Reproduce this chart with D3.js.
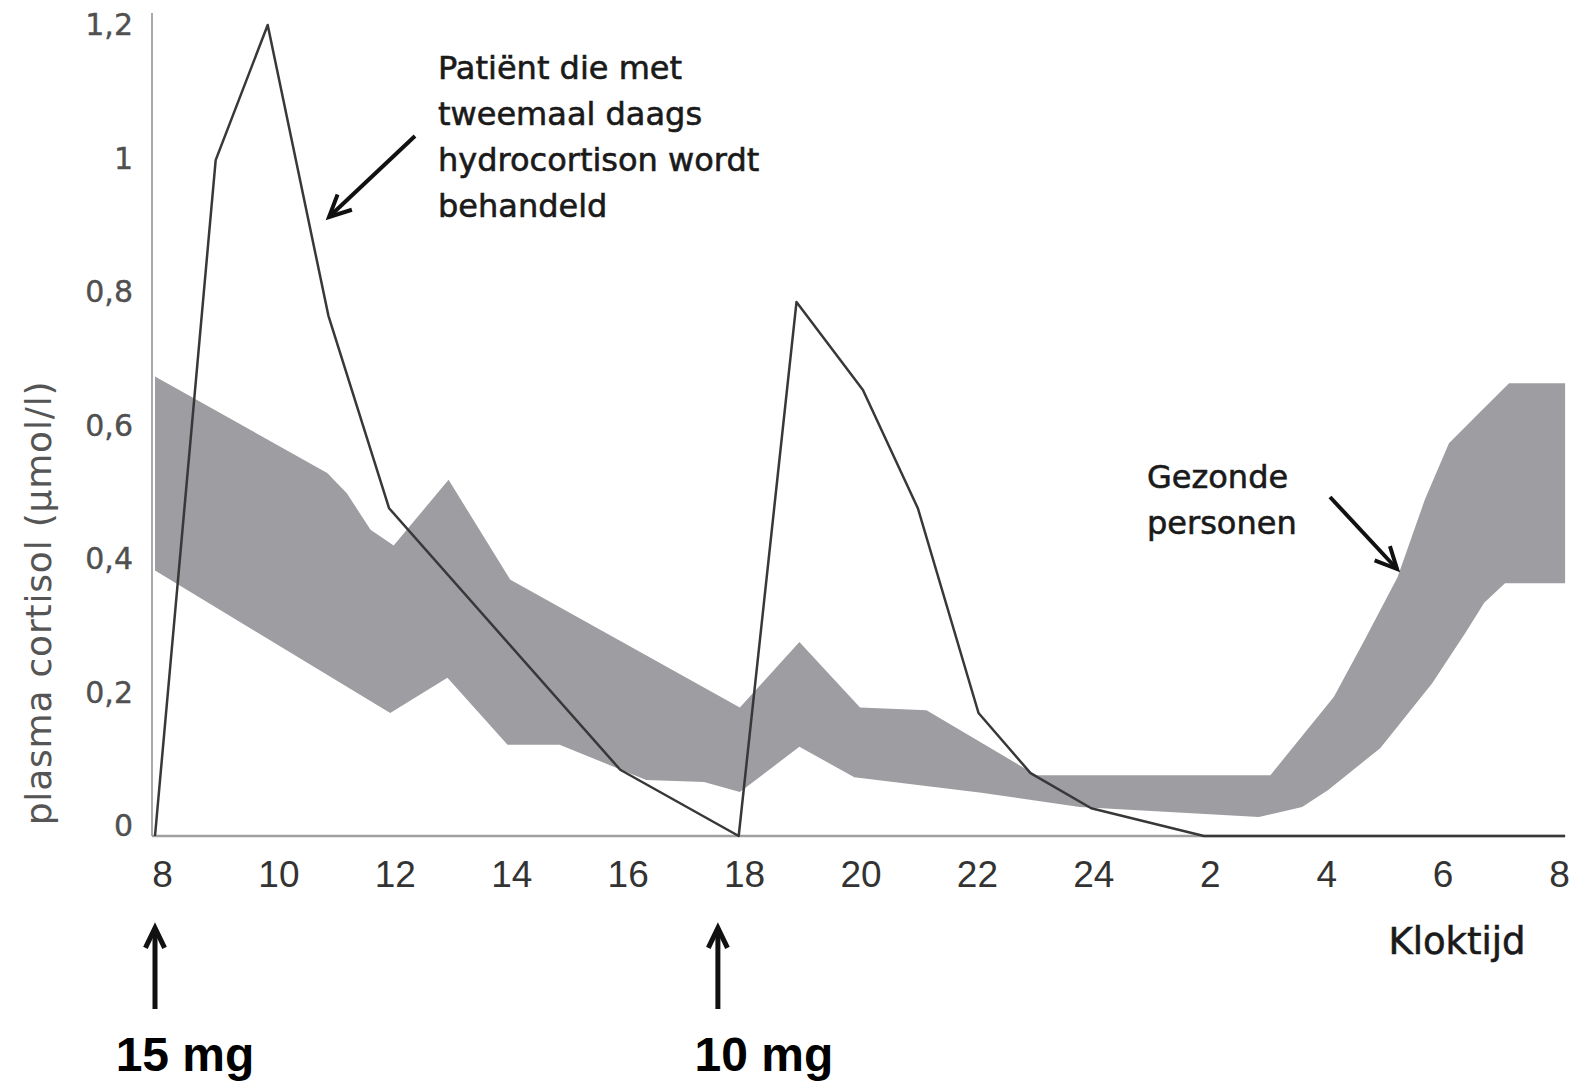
<!DOCTYPE html>
<html>
<head>
<meta charset="utf-8">
<script src="https://cdn.jsdelivr.net/npm/d3@7/dist/d3.min.js"></script>
<style>
  body { margin: 0; background: #fff; }
</style>
</head>
<body>
<svg id="chart" width="1582" height="1082"></svg>
<script>
"use strict";

// x ticks: clock time from 8h to 8h next morning (hours counted on from 8)
var xTickHours = [8, 10, 12, 14, 16, 18, 20, 22, 24, 26, 28, 30, 32];
var xTickLabels = ["8", "10", "12", "14", "16", "18", "20", "22", "24", "2", "4", "6", "8"];
var yTicks = [0, 0.2, 0.4, 0.6, 0.8, 1, 1.2];
var yTickLabels = ["0", "0,2", "0,4", "0,6", "0,8", "1", "1,2"];

// patient on twice-daily hydrocortisone
var patientHours  = [8, 9.05, 9.95, 11.0, 12.05, 16.05, 18.1, 19.1, 20.25, 21.2, 22.25, 23.15, 24.2, 26.15, 32.4];
var patientValues = [0, 1.0, 1.2, 0.77, 0.485, 0.098, 0, 0.79, 0.66, 0.485, 0.182, 0.093, 0.041, 0, 0];

// healthy persons: band limits
var upperHours  = [8, 10.98, 11.32, 11.73, 12.13, 13.08, 14.15, 18.12, 19.15, 20.2, 21.35, 23.25, 27.3, 28.4, 28.93, 29.5, 29.97, 30.39, 30.96, 31.43, 32.4];
var upperValues = [0.68, 0.537, 0.507, 0.453, 0.43, 0.527, 0.379, 0.19, 0.287, 0.19, 0.186, 0.09, 0.09, 0.206, 0.29, 0.383, 0.497, 0.581, 0.63, 0.67, 0.67];
var lowerHours  = [8, 12.07, 13.06, 14.1, 15.0, 16.5, 17.5, 18.12, 19.15, 20.1, 22.3, 24.0, 27.1, 27.85, 28.3, 29.2, 30.1, 30.67, 31.0, 31.36, 32.4];
var lowerValues = [0.393, 0.182, 0.234, 0.135, 0.135, 0.083, 0.08, 0.065, 0.132, 0.087, 0.064, 0.043, 0.028, 0.043, 0.068, 0.13, 0.226, 0.3, 0.345, 0.374, 0.374];

// doses
var doseHours = [8, 17.74];
var doseLabels = ["15 mg", "10 mg"];
var doseLabelShift = [30, 46];

var SANS = "\"Liberation Sans\", Arial, sans-serif";
var WIDE = "\"DejaVu Sans\", sans-serif";

var svg = d3.select("#chart");

var x = d3.scaleLinear().domain([8, 32]).range([155, 1542]);
var xLabel = d3.scaleLinear().domain([8, 32]).range([162, 1559]);
var y = d3.scaleLinear().domain([0, 1.2]).range([836, 25]);
var yLabel = d3.scaleLinear().domain([0, 1.2]).range([826, 25]);

// band
var bandPts = upperHours.map(function(h, i) { return [h, upperValues[i]]; })
    .concat(lowerHours.map(function(h, i) { return [h, lowerValues[i]]; }).reverse());
var bandLine = d3.line()
    .x(function(d) { return x(d[0]); })
    .y(function(d) { return y(d[1]); });
svg.append("path")
    .attr("d", bandLine(bandPts) + "Z")
    .attr("fill", "#9e9ea2");

// axes lines
svg.append("line")
    .attr("x1", 152).attr("x2", 152)
    .attr("y1", 13).attr("y2", y(0))
    .attr("stroke", "#aaa").attr("stroke-width", 2);
svg.append("line")
    .attr("x1", 152).attr("x2", x(32.4))
    .attr("y1", y(0)).attr("y2", y(0))
    .attr("stroke", "#a0a0a0").attr("stroke-width", 2.5);

// patient line
var patientLine = d3.line()
    .x(function(d) { return x(d[0]); })
    .y(function(d) { return y(d[1]); });
svg.append("path")
    .datum(patientHours.map(function(h, i) { return [h, patientValues[i]]; }))
    .attr("d", patientLine)
    .attr("fill", "none")
    .attr("stroke", "#383838")
    .attr("stroke-width", 2.5)
    .attr("stroke-linejoin", "round");

// x axis labels
var xAxis = d3.axisBottom(xLabel)
    .tickValues(xTickHours)
    .tickFormat(function(d, i) { return xTickLabels[i]; })
    .tickSize(0)
    .tickPadding(0);
var gx = svg.append("g").attr("transform", "translate(0,861)").call(xAxis);
gx.select(".domain").remove();
gx.selectAll("text")
    .style("font-family", SANS)
    .style("font-size", "37px")
    .attr("fill", "#333");

// y axis labels
var yAxis = d3.axisLeft(yLabel)
    .tickValues(yTicks)
    .tickFormat(function(d, i) { return yTickLabels[i]; })
    .tickSize(0)
    .tickPadding(0);
var gy = svg.append("g").attr("transform", "translate(133,0)").call(yAxis);
gy.select(".domain").remove();
gy.selectAll("text")
    .style("font-family", WIDE)
    .style("font-size", "30px")
    .attr("fill", "#505050")
    .attr("stroke", "#505050")
    .attr("stroke-width", 0.4);

// y title
svg.append("text")
    .attr("transform", "translate(51,603) rotate(-90)")
    .attr("text-anchor", "middle")
    .style("font-family", WIDE)
    .style("font-size", "36px")
    .style("letter-spacing", "0.8px")
    .attr("fill", "#555")
    .text("plasma cortisol (\u00b5mol/l)");

// x title
svg.append("text")
    .attr("x", 1457).attr("y", 954)
    .attr("text-anchor", "middle")
    .style("font-family", WIDE)
    .style("font-size", "37px")
    .attr("fill", "#1a1a1a")
    .attr("stroke", "#1a1a1a")
    .attr("stroke-width", 0.6)
    .text("Kloktijd");

function arrow(x1, y1, x2, y2, head, width) {
    var a = Math.atan2(y2 - y1, x2 - x1);
    var s = 0.45;
    var p1 = [x2 - head * Math.cos(a - s), y2 - head * Math.sin(a - s)];
    var p2 = [x2 - head * Math.cos(a + s), y2 - head * Math.sin(a + s)];
    svg.append("line")
        .attr("x1", x1).attr("y1", y1).attr("x2", x2).attr("y2", y2)
        .attr("stroke", "#111").attr("stroke-width", width);
    svg.append("path")
        .attr("d", "M" + p1 + "L" + [x2, y2] + "L" + p2)
        .attr("fill", "none")
        .attr("stroke", "#111").attr("stroke-width", width)
        .attr("stroke-linejoin", "miter");
}

// annotations
var patientNote = ["Pati\u00ebnt die met", "tweemaal daags", "hydrocortison wordt", "behandeld"];
svg.append("text")
    .attr("x", 438).attr("y", 79)
    .style("font-family", WIDE)
    .style("font-size", "32px")
    .attr("fill", "#1a1a1a")
    .attr("stroke", "#1a1a1a")
    .attr("stroke-width", 0.6)
    .selectAll("tspan")
    .data(patientNote)
    .enter().append("tspan")
    .attr("x", 438)
    .attr("dy", function(d, i) { return i === 0 ? 0 : 46; })
    .text(function(d) { return d; });
arrow(415, 136, 329, 217, 24, 4);

var healthyNote = ["Gezonde", "personen"];
svg.append("text")
    .attr("x", 1147).attr("y", 488)
    .style("font-family", WIDE)
    .style("font-size", "32px")
    .attr("fill", "#1a1a1a")
    .attr("stroke", "#1a1a1a")
    .attr("stroke-width", 0.6)
    .selectAll("tspan")
    .data(healthyNote)
    .enter().append("tspan")
    .attr("x", 1147)
    .attr("dy", function(d, i) { return i === 0 ? 0 : 46; })
    .text(function(d) { return d; });
arrow(1330, 497, 1397, 569, 24, 4);

// dose arrows
doseHours.forEach(function(h, i) {
    arrow(x(h), 1009, x(h), 928, 22, 5);
    svg.append("text")
        .attr("x", x(h) + doseLabelShift[i]).attr("y", 1071)
        .attr("text-anchor", "middle")
        .style("font-family", SANS)
        .style("font-size", "48px")
        .style("font-weight", "bold")
        .attr("fill", "#000")
        .text(doseLabels[i]);
});
</script>
</body>
</html>
